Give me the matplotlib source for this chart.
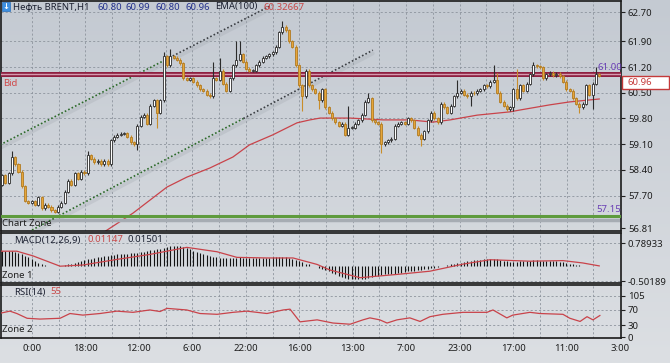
import numpy as np
import matplotlib
matplotlib.use('Agg')
import matplotlib.pyplot as plt
from matplotlib.patches import Rectangle

plt.rcParams['font.family'] = ['Noto Sans', 'DejaVu Sans']

# ---- data (H1 candles, index = bar number) ----
closes = [
    58.25, 58.05, 58.30, 58.75, 58.55, 58.35, 57.95, 57.55, 57.50, 57.55,
    57.45, 57.65, 57.35, 57.45, 57.40, 57.30, 57.25, 57.40, 57.50, 57.80,
    58.10, 58.00, 58.30, 58.15, 58.35, 58.30, 58.80, 58.70, 58.60, 58.65,
    58.55, 58.65, 58.55, 59.20, 59.30, 59.35, 59.38, 59.40, 59.30, 59.15,
    59.10, 59.60, 59.85, 59.90, 59.65, 60.15, 60.30, 59.95, 60.30, 61.50,
    61.25, 61.50, 61.45, 61.40, 61.30, 60.90, 60.85, 60.90, 60.80, 60.70,
    60.60, 60.55, 60.45, 60.40, 60.90, 60.85, 61.10, 60.75, 60.55, 60.90,
    61.25, 61.40, 61.55, 61.35, 61.15, 61.10, 61.10, 61.25, 61.35, 61.45,
    61.50, 61.55, 61.60, 61.75, 62.15, 62.30, 62.20, 61.90, 61.75, 61.25,
    60.70, 60.40, 61.10, 60.70, 60.60, 60.50, 60.30, 60.60, 60.10, 59.95,
    59.80, 59.70, 59.60, 59.65, 59.35, 59.55, 59.55, 59.65, 59.75, 59.90,
    60.25, 60.35, 59.75, 59.70, 59.65, 59.10, 59.15, 59.20, 59.25, 59.60,
    59.65, 59.70, 59.65, 59.80, 59.75, 59.55, 59.35, 59.25, 59.45, 59.75,
    59.95, 59.80, 59.70, 60.20, 60.10, 59.95, 60.15, 60.40, 60.50, 60.55,
    60.45, 60.40, 60.50, 60.48, 60.55, 60.60, 60.70, 60.68, 60.80, 60.85,
    60.50, 60.25, 60.15, 60.05, 60.10, 60.60, 60.35, 60.70, 60.55, 60.75,
    61.00, 61.25, 61.22, 61.20, 60.90, 61.00, 61.05, 60.98, 61.02, 60.95,
    60.80, 60.60, 60.55, 60.35, 60.20, 60.10, 60.20, 60.70, 60.45, 60.75,
    61.00, 60.96,
]
first_open = 58.00
highs = {3: 58.90, 26: 58.90, 49: 61.60, 51: 61.70, 64: 61.35, 66: 61.45,
         71: 61.90, 72: 61.90, 85: 62.45, 105: 60.15, 111: 60.50, 138: 60.85,
         149: 61.25, 150: 61.05, 156: 61.15, 161: 61.35, 180: 61.20}
lows = {41: 58.95, 47: 59.55, 91: 60.00, 96: 60.05, 115: 58.85, 127: 59.05,
        142: 60.15, 155: 60.00, 175: 59.95, 179: 60.05}

ema_idx = [30, 39.7, 50, 56, 63, 70, 75, 82, 89.4, 93.3, 96.4, 105.5, 115.5,
           123.6, 130.6, 135.8, 144, 154, 157, 166, 172, 181]
ema_val = [56.65, 57.22, 57.93, 58.20, 58.45, 58.75, 59.08, 59.35, 59.68, 59.76,
           59.81, 59.81, 59.76, 59.76, 59.70, 59.76, 59.89, 59.98, 60.03, 60.17,
           60.25, 60.33]

upper_line = [(-0.6, 59.08), (81.8, 62.89)]
lower_line = [(9.1, 56.76), (112.4, 61.66)]
level_red = 61.00
level_green = 57.15

macd = [
    .52, .52, .53, .52, .50, .46, .41, .36, .31, .25,
    .18, .13, .07, .04, .02, .01, .00, .01, .02, .04,
    .07, .09, .12, .15, .18, .21, .24, .27, .30, .31,
    .33, .35, .37, .39, .40, .41, .42, .43, .44, .45,
    .46, .47, .48, .50, .52, .55, .57, .58, .60, .64,
    .66, .68, .70, .71, .70, .66, .62, .58, .54, .50,
    .46, .42, .38, .35, .33, .31, .30, .30, .29, .29,
    .30, .30, .31, .30, .29, .29, .29, .29, .30, .30,
    .30, .30, .31, .31, .31, .32, .31, .29, .26, .22,
    .18, .14, .10, .07, .03, .00, -.04, -.08, -.12, -.16,
    -.22, -.27, -.31, -.35, -.38, -.41, -.43, -.44, -.44, -.43,
    -.41, -.38, -.35, -.33, -.31, -.29, -.27, -.26, -.25, -.24,
    -.22, -.21, -.19, -.17, -.16, -.15, -.13, -.12, -.10, -.08,
    -.06, -.04, -.02, .00, .03, .05, .07, .09, .11, .13,
    .16, .18, .19, .21, .22, .23, .24, .25, .25, .25,
    .24, .22, .20, .18, .16, .16, .16, .17, .18, .19,
    .20, .21, .21, .20, .19, .18, .18, .17, .17, .16,
    .15, .13, .10, .08, .06, .04, .03, .02, .02, .01,
    .01, .01,
]
signal_idx = [-0.6, 4.5, 9.4, 17.6, 24.5, 34.8, 44.8, 56.0, 65.2, 71.2, 80.3,
              88.2, 95.5, 99.4, 108.5, 119.7, 129.7, 139.7, 147.9, 160.0,
              170.0, 176.0, 181.0]
signal_val = [0.52, 0.52, 0.36, 0.01, 0.05, 0.24, 0.41, 0.65, 0.50, 0.31, 0.29,
              0.29, 0.07, -0.12, -0.38, -0.27, -0.16, 0.08, 0.23, 0.18,
              0.20, 0.12, 0.02]

rsi_idx = [-0.6, 2.4, 4.5, 7.6, 11.5, 17.6, 20.6, 24.5, 29.7, 34.8, 39.7, 44.8,
           47.9, 50, 56, 60, 65.2, 70, 74.2, 80.3, 85.2, 87.3, 90.3, 95.5,
           100.3, 105.5, 109.4, 111.5, 114.5, 116.7, 119.7, 123.6, 126.7,
           129.7, 133.6, 139.7, 147, 148.8, 153, 154.8, 160, 163, 170, 172.1,
           175.2, 177.3, 179.1, 181.2]
rsi_val = [60.6, 66, 60, 48, 46, 48, 60, 56, 60, 66, 63, 69,
           65, 73, 69, 60, 58, 63, 66, 60, 69, 71, 39, 44,
           36, 33, 44, 49, 44, 36, 44, 49, 40,
           52, 58, 63, 63, 69, 49, 56, 63, 60, 58, 48,
           40, 52, 44, 55]

time_labels = ['0:00', '18:00', '12:00', '6:00', '22:00', '16:00', '13:00',
               '7:00', '23:00', '17:00', '11:00', '3:00']
price_ticks = [62.70, 61.90, 61.20, 60.50, 59.80, 59.10, 58.40, 57.70, 56.81]
macd_ticks = [0.78933, -0.50189]
rsi_ticks = [105, 70, 30, 0]

# ---- figure layout (pixel based) ----
W, H = 670, 363
fig = plt.figure(figsize=(W / 100, H / 100), dpi=100)


def fx(px):
    return px / W


def fy(py):
    return 1 - py / H


bg = fig.add_axes([0, 0, 1, 1], zorder=-10)
top = np.array([0xc4, 0xca, 0xd2]) / 255
bot = np.array([0xdc, 0xdf, 0xe3]) / 255
t = np.linspace(0, 1, 256)[:, None, None]
bg.imshow(top + (bot - top) * t, aspect='auto', extent=[0, 1, 0, 1])
bg.axis('off')

ax_p = fig.add_axes([fx(1), fy(231), fx(620), 230 / H])
ax_m = fig.add_axes([fx(1), fy(283), fx(620), 50 / H])
ax_r = fig.add_axes([fx(1), fy(338), fx(620), 53 / H])

xlim = (-0.30, 187.6)
grid_x = [9.1 + 8.1 * k for k in range(22)]
label_x = [9.1 + 16.2 * k for k in range(len(time_labels))]
grid_kw = dict(color='#8d949d', lw=0.6, ls=(0, (2.5, 2.5)), zorder=1)

fs = 6.9
for ax in (ax_p, ax_m, ax_r):
    ax.set_facecolor('none')
    ax.set_xlim(*xlim)
    for s in ax.spines.values():
        s.set_color('#1a1a1a')
        s.set_linewidth(1.2)
    ax.yaxis.tick_right()
    ax.tick_params(axis='y', length=3, width=0.8, color='#222222', pad=2,
                   labelsize=fs, labelcolor='#1e1e1e')
    ax.tick_params(axis='x', length=0)
    for gx in grid_x:
        ax.axvline(gx, **grid_kw)

# ---- price panel ----
ax_p.set_ylim(56.733, 63.0)
ax_p.set_yticks(price_ticks)
ax_p.set_yticklabels([f'{v:.2f}' for v in price_ticks])
ax_p.set_xticks([])
for v in price_ticks[:-1]:
    ax_p.axhline(v, **grid_kw)

ax_p.plot(ema_idx, ema_val, color='#c9434a', lw=0.9, zorder=2)


def channel(ax, p0, p1, split):
    (x0, y0), (x1, y1) = p0, p1
    xs = x0 + (x1 - x0) * split
    ys = y0 + (y1 - y0) * split
    ax.plot([x0, x1], [y0 - 0.09, y1 - 0.09], color='#a3a9b0', lw=2.6,
            alpha=0.3, solid_capstyle='round', zorder=2)
    ax.plot([x0, xs], [y0, ys], color='#2d6a2b', lw=1.2, ls=(0, (1, 1.3)), zorder=3)
    ax.plot([xs, x1], [ys, y1], color='#3b3f44', lw=1.2, ls=(0, (1, 1.3)), zorder=3)


channel(ax_p, upper_line[0], upper_line[1], 0.61)
channel(ax_p, lower_line[0], lower_line[1], 0.62)

ax_p.axhline(level_red, color='#8e1f40', lw=3.6, zorder=3)
ax_p.axhline(level_red, color='#d59aae', lw=1.0, zorder=3)
ax_p.axhline(level_green - 0.12, color='#a6acb3', lw=2.5, zorder=2)
ax_p.axhline(level_green, color='#5e9b3d', lw=2.2, zorder=3)

idx = np.arange(len(closes))
c = np.array(closes)
o = np.concatenate([[first_open], c[:-1]])
hi = np.maximum(o, c) + 0.04
lo = np.minimum(o, c) - 0.04
for k, v in highs.items():
    hi[k] = v
for k, v in lows.items():
    lo[k] = v
up = c >= o
wick_col = np.where(up, '#2b2b2b', '#c98d2a')
ax_p.vlines(idx, lo, hi, colors=wick_col, lw=0.8, zorder=4)
body_h = np.maximum(np.abs(c - o), 0.015)
ax_p.bar(idx[up], body_h[up], bottom=np.minimum(o, c)[up], width=0.62,
         color='#ffffff', edgecolor='#2b2b2b', lw=0.6, zorder=5)
ax_p.bar(idx[~up], body_h[~up], bottom=np.minimum(o, c)[~up], width=0.62,
         color='#e6a63a', edgecolor='#b07a22', lw=0.6, zorder=5)

# ---- MACD panel ----
ax_m.set_ylim(-0.561, 1.138)
ax_m.set_yticks(macd_ticks)
ax_m.set_yticklabels(['0.78933', '-0.50189'])
ax_m.set_xticks([])
for v in macd_ticks:
    ax_m.axhline(v, **grid_kw)
ax_m.vlines(idx, 0, macd, colors='#141414', lw=0.8, zorder=3)
ax_m.plot(signal_idx, signal_val, color='#c9434a', lw=0.9, zorder=4)

# ---- RSI panel ----
ax_r.set_ylim(-1.8, 132)
ax_r.set_yticks(rsi_ticks)
ax_r.set_yticklabels([str(v) for v in rsi_ticks])
for v in rsi_ticks[:-1]:
    ax_r.axhline(v, **grid_kw)
ax_r.plot(rsi_idx, rsi_val, color='#c9434a', lw=0.9, zorder=3)
ax_r.set_xticks(label_x)
ax_r.set_xticklabels(time_labels)
ax_r.tick_params(axis='x', labelsize=fs, labelcolor='#1e1e1e', pad=4)

# ---- texts ----
fig.patches.append(Rectangle((fx(2), fy(11)), fx(8), 9 / H, transform=fig.transFigure,
                             facecolor='#3d8fe0', edgecolor='#2a6fb8', lw=0.5))
fig.text(fx(6), fy(6.5), '↓', color='white', fontsize=6, ha='center', va='center',
         fontweight='bold', family='DejaVu Sans')
head = [(13, 'Нефть BRENT,H1', '#1d2232'), (97, '60.80', '#22308c'),
        (126, '60.99', '#22308c'), (156, '60.80', '#22308c'),
        (186, '60.96', '#22308c'), (215, 'EMA(100)', '#1d2232'),
        (264, '60.32667', '#c84848')]
for px, s, col in head:
    fig.text(fx(px), fy(7), s, color=col, fontsize=fs, va='center')

fig.text(fx(14), fy(240), 'MACD(12,26,9)', color='#1d2232', fontsize=fs, va='center')
fig.text(fx(88), fy(240), '0.01147', color='#c84848', fontsize=fs, va='center')
fig.text(fx(128), fy(240), '0.01501', color='#1d2232', fontsize=fs, va='center')
fig.text(fx(14), fy(292), 'RSI(14)', color='#1d2232', fontsize=fs, va='center')
fig.text(fx(50), fy(292), '55', color='#c84848', fontsize=fs, va='center')

fig.text(fx(3), fy(83), 'Bid', color='#d04a4a', fontsize=fs, va='center')
fig.text(fx(2), fy(223), 'Chart Zone', color='#202020', fontsize=fs, va='center')
fig.text(fx(2), fy(275), 'Zone 1', color='#202020', fontsize=fs, va='center')
fig.text(fx(2), fy(330), 'Zone 2', color='#202020', fontsize=fs, va='center')
fig.text(fx(597), fy(67), '61.00', color='#6a3fb5', fontsize=fs, va='center')
fig.text(fx(596), fy(210), '57.15', color='#6a3fb5', fontsize=fs, va='center')

fig.patches.append(Rectangle((fx(622), fy(89)), fx(47), 13 / H, transform=fig.transFigure,
                             facecolor='white', edgecolor='#c43a3a', lw=1.0, zorder=20))
fig.text(fx(627), fy(82.5), '60.96', color='#c43a3a', fontsize=fs, va='center', zorder=21)

fig.savefig('out.png', dpi=100)
